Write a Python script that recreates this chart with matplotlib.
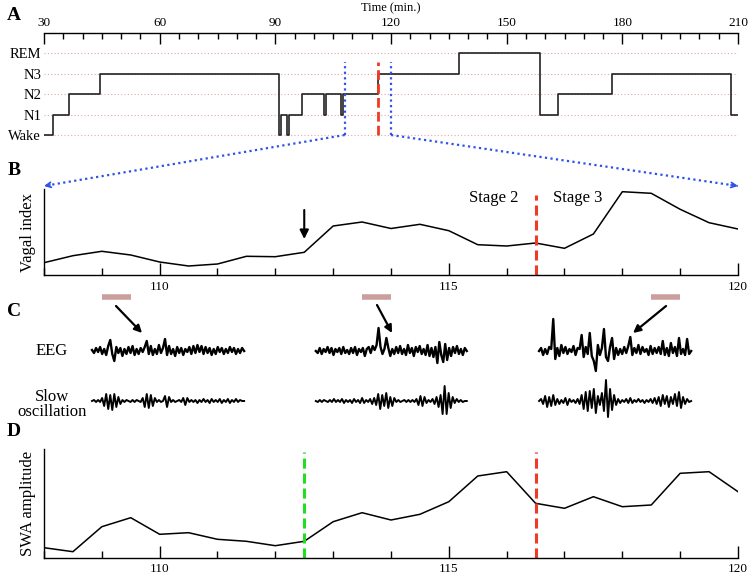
import numpy as np
import matplotlib
matplotlib.use("Agg")
import matplotlib.pyplot as plt
from matplotlib.ticker import MultipleLocator
from matplotlib.lines import Line2D
from matplotlib.patches import FancyArrowPatch

plt.rcParams['font.family'] = ['Liberation Serif', 'DejaVu Serif']

# ---------------- data ----------------
stage_names = ['Wake', 'N1', 'N2', 'N3', 'REM']
hyp_times = [30, 32.4, 36.5, 44.5, 91.0, 91.4, 93.1, 93.5, 97.0, 102.6, 103.1,
             107.0, 107.5, 116.5, 137.7, 158.7, 163.2, 177.2, 208.2, 210]
hyp_stages = ['Wake', 'N1', 'N2', 'N3', 'Wake', 'N1', 'Wake', 'N1', 'N2', 'N1', 'N2',
              'N1', 'N2', 'N3', 'REM', 'N1', 'N2', 'N3', 'N1', 'N1']
zoom_window = [108, 120]
stage_change = 116.5
vagal_onset = 112.5

t_half = [108, 108.5, 109, 109.5, 110, 110.5, 111, 111.5, 112, 112.5, 113, 113.5,
          114, 114.5, 115, 115.5, 116, 116.5, 117, 117.5, 118, 118.5, 119, 119.5, 120]
vagal = [12.3, 19.3, 23.7, 20, 13, 9, 11, 18.7, 18.3, 22.7, 49, 53, 46.5, 50.7,
         44.3, 30.3, 29, 32, 26.7, 41, 83.3, 81.7, 65.7, 52.3, 46]
swa = [10, 6, 31, 40, 23.4, 25, 18.4, 16.4, 12, 16.4, 36, 45, 37.7, 43.4, 56,
       81.7, 86, 54.4, 49.4, 61, 51, 52.7, 84.4, 86, 66]

# EEG / slow-oscillation excerpts (time span in min, amplitude in arbitrary units)
seg_spans = [(108.83, 111.46), (112.70, 115.31), (116.56, 119.19)]
bar_spans = [(109.0, 109.5), (113.5, 114.0), (118.5, 119.0)]
seg1_eeg = [1, -2, 3, -1, 4, -3, 2, -4, 5, 11, -3, -10, 4, -2, 3, -5, 2, -3, 4, -2, 5, -4, 2, -3,
            3, -1, 4, 10, -3, 5, -4, 2, -3, 6, -2, 3, 12, -4, 5, -3, 2, -5, 4, -2, 3, -4, 2, -1,
            4, -3, 5, -2, 6, -1, 5, -3, 4, -2, 3, -4, 2, -3, 4, -1, 3, -3, 2, -2, 4, -1, 3, -3,
            2, -2, 3, 0]
seg1_so = [0, 1, -1, 1, -1, 3, -5, 7, -8, 6, -9, 7, -6, 4, -3, 1, -1, 1, 0, -1, 1, -1, 1, 0,
           -1, 3, -6, 7, -7, 6, -5, 3, -1, 1, -1, 0, 5, -6, 4, -1, 1, -1, 0, 1, -1, 3, -4, 3,
           -1, 1, -1, 1, -2, 1, -1, 2, -1, 1, -2, 2, -1, 1, -1, 2, -2, 1, -1, 2, -2, 1, -1, 2,
           -1, 1, 0, 0]
seg2_eeg = [0, -2, 3, -3, 2, -1, 4, -2, 3, -4, 2, -1, 3, -3, 4, -2, 1, -3, 3, -2, 4, -4, 2, -1,
            3, -5, 2, 4, -2, 5, 1, 6, 23, 4, -3, 2, 13, 3, -5, 2, -3, 4, -2, 5, -3, 2, -4, 6,
            -2, 3, -5, 4, -1, 5, -3, 2, -4, 6, -5, 3, -6, 4, -12, 9, -4, -11, 7, -9, 3, -5, 4,
            -2, 5, -3, 2, -4, 3, 0]
seg2_so = [0, -1, 1, -1, 1, 0, -1, 1, -1, 2, -1, 1, -1, 2, -2, 1, -1, 1, -2, 2, -1, 1, -2, 3,
           -2, 1, -1, 2, -3, 3, -4, 7, -8, 6, -5, 8, -7, 4, -5, 3, -1, 1, -1, 0, 1, -1, 1, -1,
           1, -1, 2, -4, 5, -5, 4, -2, 1, -1, 2, -3, 4, -6, 6, -13, 15, -13, 8, -7, 4, -2, 2,
           -1, 1, -1, 0, 0]
seg3_eeg = [0, 3, -4, 2, -3, 4, 2, 32, -8, 3, -5, 6, -2, 4, -3, 2, -1, 5, -4, 3, 2, 16, -6, 4,
            -3, 18, -5, -10, -20, 6, -4, 3, 22, -6, -10, 4, 13, -8, 3, -4, 2, -3, 4, -2, 5, 14,
            -4, 3, -2, 6, -3, 4, -1, 2, -4, 5, -3, 3, -2, 4, -3, 10, -4, 3, -5, 8, -2, 4, -5,
            13, -3, 2, -4, 12, -3, 0]
seg3_so = [0, 2, -3, 5, -6, 4, -5, 6, -4, 2, -3, 1, -2, 3, -4, 2, -1, 1, -2, 2, -3, 6, -8, 9,
           -10, 10, -7, 12, -12, 5, -4, 8, -10, 21, -16, 12, -9, 6, -4, 2, -2, 1, -1, 2, -2, 3,
           -2, 1, -1, 2, -1, 1, -2, 1, -1, 2, -2, 3, -3, 4, -5, 6, -3, 5, -6, 4, -3, 7, -5, 9,
           -7, 4, -3, 2, -1, 0]
eeg_traces = [seg1_eeg, seg2_eeg, seg3_eeg]
so_traces = [seg1_so, seg2_so, seg3_so]

# ---------------- layout ----------------
W, H = 749, 575
fig = plt.figure(figsize=(W / 100, H / 100), dpi=100)


def axpx(l, t, r, b):
    return fig.add_axes([l / W, 1 - b / H, (r - l) / W, (b - t) / H])


axA = axpx(44, 33, 738, 140)
axB = axpx(44, 189, 738, 275)
axC = axpx(44, 290, 738, 420)
axD = axpx(44, 449, 738, 557.7)

BLUE = '#2f52e8'
RED = '#ee3b24'
GREEN = '#22dd22'
PINK = '#cc9f9f'

# ---------------- panel A ----------------
levels = [stage_names.index(s) for s in hyp_stages]
axA.set_xlim(30, 210)
axA.set_ylim(-0.244, 4.976)
for lv in range(len(stage_names)):
    axA.axhline(lv, color='#e6a8a8', ls=(0, (1, 2)), lw=0.8, zorder=1)
axA.step(hyp_times, levels, where='post', color='#222222', lw=1.2, zorder=3)
axA.vlines(zoom_window, 0, 3.55, colors=BLUE, linestyles=[(0, (1, 1.5))], lw=1.6, zorder=4)
axA.vlines([stage_change], 0, 3.55, colors=RED, linestyles=[(0, (3.5, 1.5))], lw=2.0, zorder=4)
for s in ['bottom', 'left', 'right']:
    axA.spines[s].set_visible(False)
axA.spines['top'].set_linewidth(1.0)
axA.xaxis.set_ticks_position('top')
axA.xaxis.set_label_position('top')
axA.set_xticks([30, 60, 90, 120, 150, 180, 210])
axA.xaxis.set_minor_locator(MultipleLocator(5))
axA.tick_params(axis='x', which='major', direction='in', length=8, width=1,
                labelsize=9.5, pad=3)
axA.tick_params(axis='x', which='minor', direction='in', length=4, width=1)
axA.set_xlabel('Time (min.)', fontsize=9, labelpad=4)
axA.set_yticks(range(len(stage_names)))
axA.set_yticklabels(stage_names)
axA.tick_params(axis='y', length=0, pad=2, labelsize=10.5)

# ---------------- panel B ----------------
def style_zoom_axis(ax, ymax):
    ax.set_xlim(zoom_window)
    ax.set_ylim(0, ymax)
    ax.spines['top'].set_visible(False)
    ax.spines['right'].set_visible(False)
    ax.spines['left'].set_linewidth(1.0)
    ax.spines['bottom'].set_linewidth(1.0)
    ax.set_xticks([110, 115, 120])
    ax.xaxis.set_minor_locator(MultipleLocator(1))
    ax.tick_params(axis='x', which='major', direction='in', length=9, width=1,
                   labelsize=9.5, pad=4)
    ax.tick_params(axis='x', which='minor', direction='in', length=5, width=1)
    ax.set_yticks([])


style_zoom_axis(axB, 86)
axB.plot(t_half, vagal, color='black', lw=1.1)
axB.vlines([stage_change], 0, 80, colors=RED, linestyles=[(0, (3.3, 1.6))], lw=2.2)
axB.text(115.78, 77, 'Stage 2', fontsize=12, ha='center', va='center')
axB.text(117.23, 77, 'Stage 3', fontsize=12, ha='center', va='center')
axB.annotate('', xy=(vagal_onset, 36), xytext=(vagal_onset, 65),
             arrowprops=dict(arrowstyle='-|>', color='black', lw=1.5,
                             mutation_scale=13, shrinkA=0, shrinkB=0))
axB.set_ylabel('Vagal index', fontsize=12)
axB.yaxis.set_label_coords(-0.0115, 0.5)

# ---------------- panel C ----------------
axC.set_xlim(zoom_window)
axC.set_ylim(0, 130)
axC.axis('off')
eeg_base, so_base, bar_y = 69, 19, 123
for (t0, t1), eeg, so in zip(seg_spans, eeg_traces, so_traces):
    axC.plot(np.linspace(t0, t1, len(eeg)), np.array(eeg) + eeg_base,
             color='black', lw=1.7)
    axC.plot(np.linspace(t0, t1, len(so)), np.array(so) + so_base,
             color='black', lw=1.4)
axC.hlines([bar_y] * 3, [b[0] for b in bar_spans], [b[1] for b in bar_spans],
           colors=PINK, lw=4)
arrow_pairs = [((109.245, 114), (109.695, 87)),
               ((113.758, 115), (114.018, 87)),
               ((118.756, 114), (118.185, 87))]
for start, end in arrow_pairs:
    axC.annotate('', xy=end, xytext=start,
                 arrowprops=dict(arrowstyle='-|>', color='black', lw=1.6,
                                 mutation_scale=11, shrinkA=0, shrinkB=0))
axC.text(0.0115, eeg_base / 130, 'EEG', transform=axC.transAxes, fontsize=12,
         ha='center', va='center')
axC.text(0.0115, so_base / 130 - 0.025, 'Slow\noscillation', transform=axC.transAxes,
         fontsize=12, ha='center', va='center', linespacing=0.95)

# ---------------- panel D ----------------
style_zoom_axis(axD, 108.7)
axD.plot(t_half, swa, color='black', lw=1.1)
axD.vlines([vagal_onset], 0, 106, colors=GREEN, linestyles=[(0, (3.3, 1.6))], lw=2.2)
axD.vlines([stage_change], 0, 106, colors=RED, linestyles=[(0, (3.3, 1.6))], lw=2.2)
axD.set_ylabel('SWA amplitude', fontsize=12)
axD.yaxis.set_label_coords(-0.0115, 0.5)

# ---------------- zoom connectors ----------------
inv = fig.transFigure.inverted()
for tA, fracB in [(zoom_window[0], 0.0), (zoom_window[1], 1.0)]:
    p0 = inv.transform(axA.transData.transform((tA, 0)))
    p1 = inv.transform(axB.transAxes.transform((fracB, 1.035)))
    fig.add_artist(Line2D([p0[0], p1[0]], [p0[1], p1[1]], transform=fig.transFigure,
                          color=BLUE, ls=(0, (1, 1.5)), lw=1.6))
    d = p1 - p0
    pre = p1 - d * 0.02
    fig.add_artist(FancyArrowPatch(pre, p1, transform=fig.transFigure,
                                   arrowstyle='->', mutation_scale=9,
                                   color=BLUE, lw=1.3, shrinkA=0, shrinkB=0))

# ---------------- panel letters ----------------
for letter, ypx in [('A', 15), ('B', 171), ('C', 311), ('D', 432)]:
    fig.text(14 / W, 1 - ypx / H, letter, fontsize=14, fontweight='bold',
             ha='center', va='center')

fig.savefig('out.png', dpi=100)
